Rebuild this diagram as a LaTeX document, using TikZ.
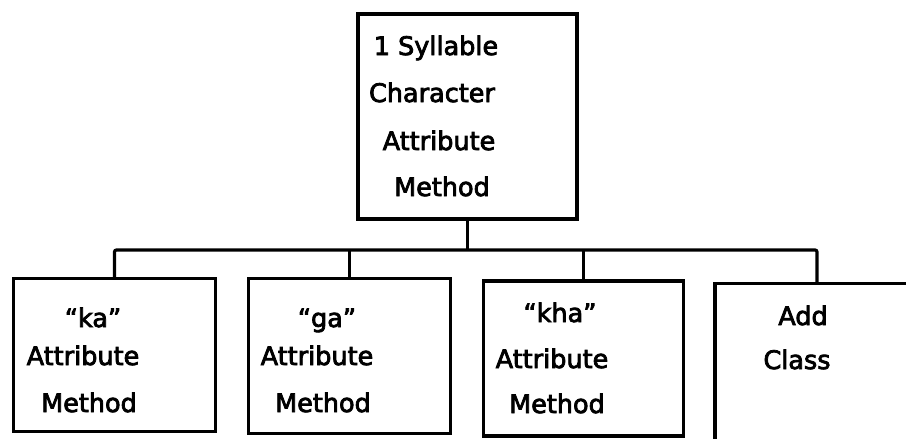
\documentclass[tikz,border=0pt]{standalone}
\usepackage{fontspec}
\newfontfamily\lblfont{DejaVu Sans}[BoldFont={DejaVu Sans},BoldFeatures={FakeBold=3}]
\begin{document}
\begin{tikzpicture}[x=1pt,y=-1pt,
  frame/.style={draw=black,line width=3.2pt,rectangle,inner sep=0pt,fill=white},
  link/.style={draw=black,line width=3.2pt,rounded corners=2pt},
  lbl/.style={anchor=base,inner sep=0pt,font=\lblfont\bfseries\fontsize{25.5}{30}\selectfont}]
\useasboundingbox (0,0) rectangle (906,439);
\clip (0,0) rectangle (906,439);

% parent class
\node[frame,minimum width=219pt,minimum height=205pt] (top) at (467.5,116.5) {};
% child classes
\node[frame,minimum width=202pt,minimum height=153pt] (ka)  at (114.5,355) {};
\node[frame,minimum width=202pt,minimum height=155pt] (ga)  at (349.5,356) {};
\node[frame,minimum width=200pt,minimum height=155pt] (kha) at (583.5,358.5) {};
\node[frame,minimum width=204pt,minimum height=217pt] (add) at (817,392) {};

% tree connectors
\coordinate (bus) at (0,250);
\draw[link] (ka.north) -- (ka.north |- bus) -- (add.north |- bus) -- (add.north);
\draw[link] (top.south) -- (top.south |- bus);
\draw[link] (ga.north) -- (ga.north |- bus);
\draw[link] (kha.north) -- (kha.north |- bus);

% labels
\node[lbl] (t1) at (436,55)  {1 Syllable};
\node[lbl] (t2) at (432,102) {Character};
\node[lbl] (t3) at (439,150) {Attribute};
\node[lbl] (t4) at (442,196) {Method};

\node[lbl] (k1) at (93,327)  {“ka”};
\node[lbl] (k2) at (83,365)  {Attribute};
\node[lbl] (k3) at (89,412)  {Method};

\node[lbl] (g1) at (327,327) {“ga”};
\node[lbl] (g2) at (317,365) {Attribute};
\node[lbl] (g3) at (323,412) {Method};

\node[lbl] (h1) at (560,322) {“kha”};
\node[lbl] (h2) at (552,368) {Attribute};
\node[lbl] (h3) at (557,413) {Method};

\node[lbl] (a1) at (803,325) {Add};
\node[lbl] (a2) at (797,369) {Class};
\end{tikzpicture}
\end{document}
